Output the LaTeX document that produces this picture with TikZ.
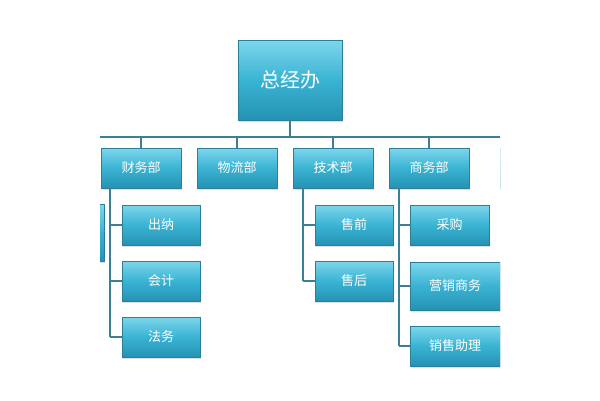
\documentclass[tikz,border=0pt]{standalone}
\usepackage{fontspec}
\usetikzlibrary{shadows}
\newfontfamily\cjk{Noto Sans CJK SC}
\begin{document}
\begin{tikzpicture}[x=1pt,y=-1pt,
  bx/.style={draw=boxline,line width=0.8pt,top color=boxtop,bottom color=boxbot,middle color=boxmid,shading angle=0,inner sep=0pt,text=white,font=\cjk\fontsize{13}{15}\selectfont,drop shadow={opacity=0.25,shadow xshift=1pt,shadow yshift=-1.5pt}},
  ln/.style={draw=linec,line width=1.6pt}]
\definecolor{boxline}{HTML}{2B7F98}
\definecolor{boxtop}{HTML}{7DD6EC}
\definecolor{boxmid}{HTML}{3AB3D3}
\definecolor{boxbot}{HTML}{2592B3}
\definecolor{linec}{HTML}{3A7F93}
\useasboundingbox (0,0) rectangle (600,400);
\begin{scope}
\clip (100,0) rectangle (500,400);
\coordinate (hl) at (90,137);
\coordinate (hr) at (510,137);
\draw[ln] (hl) -- (hr);
\node[bx,minimum width=104pt,minimum height=80pt] (top) at (290,80) {\fontsize{20}{24}\selectfont 总经办};
\draw[ln] (top.south) -- (290,137);
\foreach \n/\x/\t in {cw/141/财务部,wl/237/物流部,js/333/技术部,sw/429/商务部,rx/540/{}} {
  \draw[ln] (\x,137) -- (\x,148);
  \node[bx,minimum width=80pt,minimum height=40pt] (\n) at (\x,168) {\t};
}
\node[bx,minimum width=80pt,minimum height=57pt] (lx) at (64,233) {};
% finance
\draw[ln] (110,188) -- (110,337);
\foreach \n/\y/\t in {cn/225/出纳,kj/281/会计,fw/337/法务} {
  \node[bx,minimum width=78pt,minimum height=40pt] (\n) at (161,\y) {\t};
  \draw[ln] (110,\y) -- (\n.west);
}
% tech
\draw[ln] (303,188) -- (303,281);
\foreach \n/\y/\t in {sq/225/售前,sh/281/售后} {
  \node[bx,minimum width=78pt,minimum height=40pt] (\n) at (354,\y) {\t};
  \draw[ln] (303,\y) -- (\n.west);
}
% business
\draw[ln] (399,188) -- (399,346);
\node[bx,minimum width=79pt,minimum height=40pt] (cg) at (449.5,225) {采购};
\node[bx,minimum width=90pt,minimum height=48pt] (yx) at (455,286) {营销商务};
\node[bx,minimum width=90pt,minimum height=40pt] (xs) at (455,346) {销售助理};
\draw[ln] (399,225) -- (cg.west);
\draw[ln] (399,286) -- (yx.west);
\draw[ln] (399,346) -- (xs.west);
\end{scope}
\end{tikzpicture}
\end{document}
